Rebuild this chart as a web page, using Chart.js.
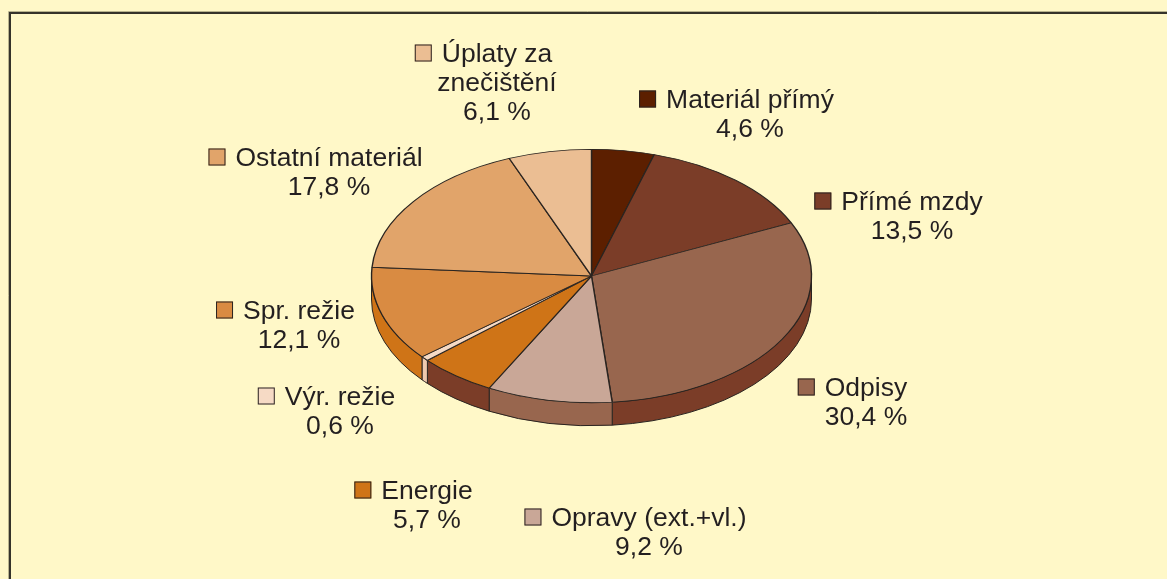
<!DOCTYPE html>
<html>
<head>
<meta charset="utf-8">
<script src="https://cdn.jsdelivr.net/npm/chart.js@4"></script>
<style>
  html, body { margin: 0; padding: 0; background: #FFF8C8; }
  #wrap { width: 1167px; height: 579px; }
</style>
</head>
<body>
<div id="wrap"><canvas id="costChart" width="1167" height="579"></canvas></div>
<script>
// data
const categories = [
  'Materiál přímý',
  'Přímé mzdy',
  'Odpisy',
  'Opravy (ext.+vl.)',
  'Energie',
  'Výr. režie',
  'Spr. režie',
  'Ostatní materiál',
  ['Úplaty za', 'znečištění']
];
const shares = [4.6, 13.5, 30.4, 9.2, 5.7, 0.6, 12.1, 17.8, 6.1];

// styles
const topColors = ['#5C1F00', '#7B3D28', '#98664E', '#C9A797', '#CF7417', '#F6DAC5', '#D98B42', '#E1A46A', '#EBBE93'];
const sideColors = ['#4A1800', '#62301F', '#7B3D28', '#98664E', '#7B3D28', '#EEC9AE', '#CF7417', '#C88A52', '#D6A47A'];
// label anchor: centre x of text, centre y of first line
const labelAnchors = [[750, 99], [912, 201], [866, 387], [649, 517], [427, 490], [340, 396], [299, 310], [329, 157], [497, 53]];

const squash = 0.576;   // tilt of the pie
const depth = 23;       // thickness of the pie
const textColor = '#231F20';
const fontPx = 25;
const lineGap = 29;

let pctText = v => v.toFixed(1).replace('.', ',') + ' %';

const frame = {
  id: 'frame',
  beforeDraw(chart) {
    let ctx = chart.ctx;
    ctx.save();
    ctx.fillStyle = '#FFF8C8';
    ctx.fillRect(0, 0, chart.width, chart.height);
    ctx.strokeStyle = '#B9B48E';
    ctx.lineWidth = 1;
    ctx.beginPath();
    ctx.moveTo(8.5, chart.height);
    ctx.lineTo(8.5, 11.5);
    ctx.lineTo(chart.width, 11.5);
    ctx.stroke();
    ctx.strokeStyle = '#35332A';
    ctx.lineWidth = 2;
    ctx.beginPath();
    ctx.moveTo(10, chart.height);
    ctx.lineTo(10, 13);
    ctx.lineTo(chart.width, 13);
    ctx.stroke();
    ctx.restore();
  }
};

const pie3d = {
  id: 'pie3d',
  beforeDatasetsDraw(chart) {
    let ctx = chart.ctx;
    let arcs = chart.getDatasetMeta(0).data;
    let cy = arcs[0].y;
    ctx.save();
    ctx.strokeStyle = '#2A2420';
    ctx.lineWidth = 1;
    arcs.forEach((arc, i) => {
      let p = arc.getProps(['x', 'y', 'startAngle', 'endAngle', 'outerRadius'], true);
      let a = Math.max(p.startAngle, 0);
      let b = Math.min(p.endAngle, Math.PI);
      if (b <= a) return;
      let r = p.outerRadius, ry = r * squash;
      ctx.beginPath();
      ctx.ellipse(p.x, p.y, r, ry, 0, a, b);
      ctx.lineTo(p.x + r * Math.cos(b), p.y + ry * Math.sin(b) + depth);
      ctx.ellipse(p.x, p.y + depth, r, ry, 0, b, a, true);
      ctx.closePath();
      ctx.fillStyle = sideColors[i];
      ctx.fill();
      ctx.stroke();
    });
    ctx.restore();
    // squash the flat pie into the top face
    ctx.save();
    ctx.translate(0, cy);
    ctx.scale(1, squash);
    ctx.translate(0, -cy);
  },
  afterDatasetsDraw(chart) {
    chart.ctx.restore();
  },
  afterDraw(chart) {
    let ctx = chart.ctx;
    let labels = chart.data.labels;
    let values = chart.data.datasets[0].data;
    ctx.save();
    ctx.font = fontPx + 'px "Liberation Sans", Arial, sans-serif';
    ctx.textBaseline = 'alphabetic';
    labels.forEach((lab, i) => {
      let lines = Array.isArray(lab) ? lab.slice() : [lab];
      lines.push(pctText(values[i]));
      let [ax, ay] = labelAnchors[i];
      lines.forEach((t, k) => {
        let w = ctx.measureText(t).width * 1.06;
        let ly = ay + k * lineGap;
        ctx.save();
        ctx.translate(ax - w / 2, ly + fontPx * 0.36);
        ctx.scale(1.06, 1);
        ctx.fillStyle = textColor;
        ctx.fillText(t, 0, 0);
        ctx.restore();
        if (k === 0) {
          let sx = ax - w / 2 - 10 - 17;
          ctx.fillStyle = topColors[i];
          ctx.fillRect(sx, ly - 8.5, 17, 17);
          ctx.strokeStyle = '#2A2420';
          ctx.lineWidth = 1;
          ctx.strokeRect(sx + 0.5, ly - 8, 16, 16);
        }
      });
    });
    ctx.restore();
  }
};

new Chart(document.getElementById('costChart'), {
  type: 'pie',
  data: {
    labels: categories,
    datasets: [{
      data: shares,
      backgroundColor: topColors,
      borderColor: '#2A2420',
      borderWidth: 1.4,
      radius: 220
    }]
  },
  options: {
    responsive: false,
    animation: false,
    events: [],
    layout: { padding: { left: 100, right: 84, top: 20, bottom: 47 } },
    plugins: {
      legend: { display: false },
      tooltip: { enabled: false }
    }
  },
  plugins: [frame, pie3d]
});
</script>
</body>
</html>
